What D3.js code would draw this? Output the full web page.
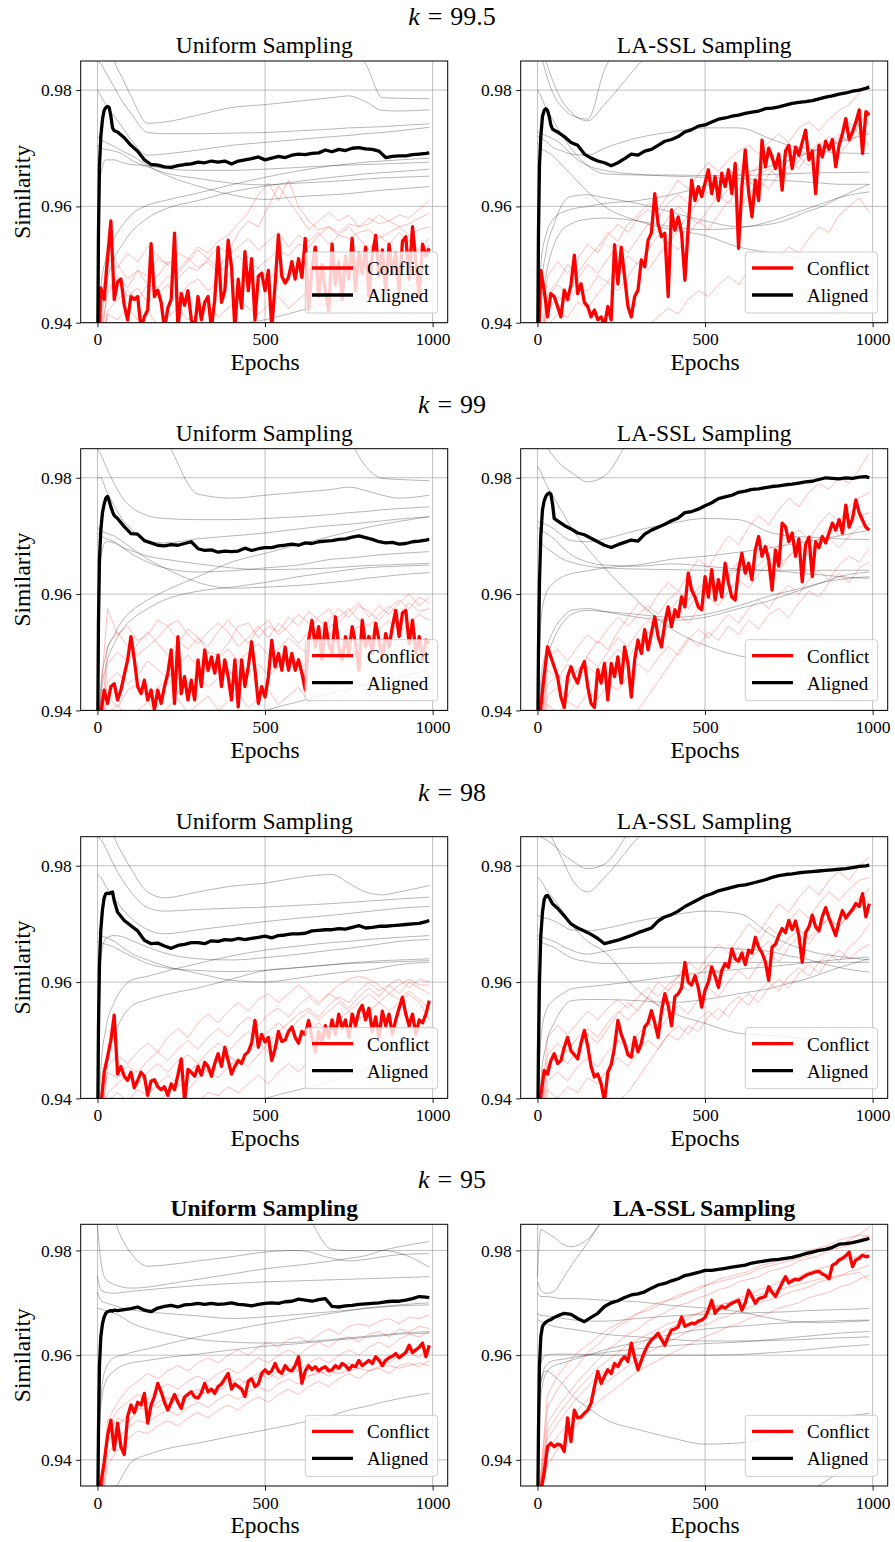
<!DOCTYPE html>
<html>
<head>
<meta charset="utf-8">
<script src="https://cdn.jsdelivr.net/npm/d3@7"></script>
<style>
  body { margin: 0; background: #fff; }
  svg text { font-family: "Liberation Serif", "Times New Roman", serif; fill: #000; }
</style>
</head>
<body>
<svg id="fig" width="895" height="1542"></svg>
<script>
// ---- sampling epochs of the logged series
const EPOCH_GRAY = [0,10,25,50,75,100,150,200,300,400,500,600,700,750,800,850,900,990];
const EPOCH_THIN = d3.range(0, 991, 30);
const EPOCH_RED = d3.range(0, 991, 10);
const EPOCH_BLACK = [0,3,6,10,15,20,25,30,35,40,45,50].concat(d3.range(60, 981, 20), [990]);

const rowLabels = ["99.5", "99", "98", "95"];
const colTitles = ["Uniform Sampling", "LA-SSL Sampling"];
const yDomains = [[0.94, 0.985], [0.94, 0.985], [0.94, 0.985], [0.935, 0.985]];
const xTicks = [0, 500, 1000];
const yTicks = [0.94, 0.96, 0.98];
const legendLabels = ["Conflict", "Aligned"];

// ================= k = 99.5 =================
const u995Black = [0.93,0.955,0.967,0.972,0.975,0.9765,0.977,0.9772,0.977,0.9755,0.9735,0.973,
  0.9728,0.9718,0.9705,0.9695,0.968,0.9672,0.9671,0.9668,
  0.9667,0.967,0.9672,0.9673,0.9676,0.9675,0.9678,0.9676,0.9678,0.9673,
  0.9678,0.968,0.9682,0.9685,0.968,0.9683,0.9686,0.9684,0.9688,0.969,
  0.9689,0.9691,0.9692,0.9697,0.9694,0.9698,0.9696,0.97,0.9701,0.9699,
  0.9698,0.9695,0.9684,0.9686,0.9687,0.9687,0.9689,0.969,0.9691, 0.9692];
const u995Red = [0.93,0.946,0.944,0.951,0.9575,0.944,0.947,0.9475,0.943,0.9405,
  0.9445,0.944,0.9445,0.939,0.941,0.9422,0.9536,0.9445,0.9456,0.9435,
  0.939,0.9425,0.944,0.9554,0.939,0.945,0.943,0.9455,0.9405,0.939,
  0.9445,0.9405,0.9435,0.9445,0.939,0.944,0.953,0.9435,0.9455,0.9542,
  0.9496,0.939,0.9475,0.9425,0.9522,0.9455,0.951,0.9405,0.948,0.9485,
  0.9455,0.949,0.939,0.9465,0.9551,0.948,0.9468,0.9478,0.9505,0.9475,
  0.951,0.9478,0.9545,0.9422,0.9495,0.953,0.9445,0.95,0.9455,0.942,
  0.9535,0.9465,0.9505,0.944,0.9515,0.9475,0.9545,0.9455,0.952,0.9485,
  0.953,0.9445,0.9515,0.955,0.948,0.9525,0.9455,0.9535,0.9485,0.952,
  0.9455,0.954,0.9548,0.9475,0.9565,0.9505,0.9445,0.9535,0.9515,0.9528];
const u995Thin = [
  [0.935,0.945,0.948,0.946,0.949,0.948,0.951,0.95,0.952,0.951,0.953,0.952,0.954,0.955,0.957,0.959,0.962,0.964,0.961,0.9645,0.96,0.9575,0.956,0.9565,0.9555,0.957,0.9565,0.958,0.957,0.9575,0.9585,0.958,0.9595,0.961],
  [0.93,0.942,0.944,0.9455,0.944,0.9465,0.946,0.948,0.9475,0.9495,0.949,0.951,0.953,0.952,0.9555,0.9575,0.9565,0.96,0.9635,0.961,0.9585,0.956,0.9575,0.959,0.9575,0.9585,0.9565,0.957,0.9585,0.9575,0.9565,0.957,0.958,0.9588],
  [0.935,0.9535,0.95,0.9475,0.949,0.9465,0.948,0.9505,0.949,0.951,0.9495,0.9505,0.9485,0.95,0.9515,0.95,0.9495,0.951,0.9525,0.9515,0.9535,0.953,0.955,0.9565,0.955,0.9545,0.9555,0.956,0.9545,0.9555,0.9565,0.955,0.956,0.9565],
  [0.93,0.946,0.9475,0.9445,0.946,0.9435,0.945,0.9465,0.944,0.9465,0.9475,0.9455,0.947,0.9485,0.9465,0.9475,0.9495,0.9475,0.949,0.948,0.9505,0.9485,0.9495,0.951,0.949,0.95,0.951,0.9495,0.9505,0.9525,0.951,0.9525,0.951,0.9535],
  [0.93,0.9415,0.9405,0.9425,0.9405,0.942,0.9395,0.941,0.9425,0.9405,0.9415,0.943,0.941,0.9425,0.944,0.9425,0.9415,0.943,0.9445,0.9425,0.944,0.9455,0.943,0.9445,0.942,0.944,0.9425,0.9455,0.944,0.9455,0.943,0.9445,0.946,0.9445],
  [0.93,0.951,0.9495,0.952,0.9505,0.953,0.9515,0.95,0.9485,0.9505,0.9525,0.951,0.9495,0.9515,0.953,0.9545,0.9525,0.954,0.9555,0.953,0.955,0.954,0.9555,0.9535,0.955,0.9565,0.9545,0.9525,0.955,0.9535,0.9555,0.954,0.9525,0.9545]
];
const u995Gray = [
  [0.999,0.999,0.998,0.997,0.996,0.995,0.994,0.993,0.992,0.991,0.99,0.989,0.988,0.987,0.9845,0.9787,0.9786,0.9785],
  [0.995,0.993,0.99,0.985,0.982,0.979,0.9743,0.9745,0.9757,0.977,0.9775,0.9781,0.9787,0.979,0.978,0.9765,0.9764,0.9766],
  [0.985,0.9845,0.983,0.9805,0.978,0.976,0.9727,0.9725,0.9725,0.9726,0.9727,0.973,0.9733,0.9735,0.9736,0.9737,0.9739,0.9742],
  [0.98,0.979,0.9775,0.9755,0.9735,0.9715,0.9688,0.969,0.9697,0.9705,0.971,0.9715,0.972,0.9722,0.9725,0.9727,0.973,0.9736],
  [0.972,0.9715,0.971,0.9703,0.9695,0.9688,0.967,0.9655,0.9635,0.962,0.9612,0.9617,0.962,0.9622,0.9625,0.9628,0.963,0.9634],
  [0.9705,0.97,0.9698,0.9695,0.969,0.968,0.9668,0.9658,0.9648,0.964,0.9637,0.964,0.9643,0.9645,0.9647,0.9649,0.965,0.9652],
  [0.94,0.9655,0.968,0.968,0.9675,0.9672,0.967,0.9665,0.9662,0.9662,0.9664,0.9667,0.967,0.9671,0.9672,0.9673,0.9674,0.9676],
  [0.935,0.946,0.951,0.9545,0.9568,0.9585,0.9602,0.961,0.9623,0.9637,0.965,0.9661,0.967,0.9673,0.9676,0.9678,0.968,0.9683],
  [0.93,0.94,0.946,0.951,0.9535,0.9555,0.958,0.9595,0.961,0.9625,0.9635,0.9643,0.965,0.9653,0.9656,0.9658,0.966,0.9664],
  [0.9,0.91,0.92,0.925,0.928,0.93,0.932,0.934,0.937,0.9395,0.9405,0.942,0.9435,0.944,0.9447,0.9455,0.946,0.9475]
];

const l995Black = [0.93,0.955,0.967,0.972,0.9755,0.9765,0.9768,0.9765,0.9755,0.974,0.9733,0.9731,
  0.9728,0.972,0.971,0.9705,0.969,0.9683,0.9678,0.9675,
  0.967,0.9675,0.9682,0.969,0.9688,0.9695,0.9698,0.9705,0.9712,0.9715,
  0.972,0.9728,0.9732,0.9738,0.974,0.9745,0.975,0.9752,0.9755,0.9757,
  0.976,0.9762,0.9764,0.9768,0.9769,0.9771,0.9774,0.9777,0.9779,0.978,
  0.9782,0.9785,0.9788,0.979,0.9793,0.9795,0.9798,0.98,0.9803, 0.9805];
const l995Red = [0.93,0.949,0.9456,0.941,0.945,0.9445,0.9428,0.941,0.9456,0.944,
  0.9465,0.9516,0.945,0.9467,0.9435,0.9428,0.941,0.9422,0.9405,0.941,
  0.9395,0.9428,0.9405,0.9534,0.9467,0.953,0.9479,0.9428,0.941,0.9445,
  0.9456,0.9508,0.9496,0.9542,0.9554,0.9622,0.957,0.9548,0.9554,0.9445,
  0.9594,0.9559,0.9582,0.9554,0.9473,0.9565,0.9645,0.961,0.9634,0.9617,
  0.964,0.9663,0.9622,0.9651,0.961,0.9657,0.9634,0.9663,0.9622,0.9674,
  0.9528,0.9634,0.9697,0.9625,0.9582,0.9645,0.961,0.9714,0.9668,0.97,
  0.9685,0.9665,0.969,0.9628,0.9695,0.9705,0.9665,0.9702,0.9688,0.971,
  0.9731,0.968,0.9695,0.9622,0.9705,0.9685,0.9712,0.9698,0.9715,0.9668,
  0.9705,0.9725,0.9751,0.9715,0.9728,0.9745,0.9766,0.9691,0.9763,0.9757];
const l995Thin = [
  [0.93,0.945,0.947,0.95,0.9485,0.951,0.953,0.9555,0.954,0.957,0.9585,0.9605,0.9595,0.962,0.9645,0.963,0.9655,0.9675,0.966,0.968,0.9695,0.9705,0.969,0.971,0.9725,0.971,0.9735,0.9745,0.973,0.975,0.9765,0.9775,0.9795,0.981],
  [0.93,0.942,0.9445,0.9435,0.946,0.9455,0.948,0.947,0.9495,0.9515,0.95,0.9525,0.955,0.9535,0.956,0.9585,0.957,0.9595,0.962,0.9605,0.963,0.9645,0.9625,0.9655,0.967,0.9655,0.968,0.97,0.9685,0.971,0.9725,0.971,0.974,0.9765],
  [0.93,0.9395,0.9415,0.941,0.9435,0.9425,0.945,0.947,0.9455,0.948,0.9505,0.949,0.9515,0.954,0.9525,0.955,0.9575,0.956,0.9585,0.961,0.9595,0.962,0.9645,0.963,0.9655,0.968,0.9665,0.969,0.971,0.9695,0.972,0.9745,0.9725,0.9745],
  [0.93,0.948,0.9505,0.9485,0.951,0.9535,0.952,0.955,0.957,0.9555,0.958,0.9595,0.958,0.9605,0.962,0.9605,0.963,0.9645,0.963,0.9655,0.9665,0.965,0.967,0.9685,0.967,0.969,0.97,0.9685,0.9705,0.972,0.9705,0.9725,0.974,0.9725],
  [0.92,0.925,0.928,0.93,0.932,0.933,0.934,0.935,0.9365,0.9375,0.9385,0.9395,0.941,0.9425,0.9415,0.944,0.9455,0.9445,0.9465,0.948,0.9465,0.949,0.9505,0.949,0.9515,0.953,0.952,0.9545,0.9565,0.9555,0.9585,0.96,0.9615,0.959],
  [0.93,0.9445,0.9465,0.945,0.9475,0.95,0.9485,0.951,0.9535,0.952,0.9545,0.957,0.9555,0.958,0.96,0.9585,0.961,0.9625,0.961,0.963,0.9645,0.9635,0.9655,0.9665,0.965,0.967,0.9685,0.967,0.969,0.9705,0.969,0.971,0.9725,0.9705]
];
const l995Gray = [
  [0.99,0.9865,0.983,0.979,0.977,0.9757,0.975,0.9835,0.99,0.993,0.995,0.996,0.997,0.997,0.997,0.997,0.997,0.997],
  [0.99,0.988,0.985,0.981,0.978,0.9762,0.9747,0.9775,0.9843,0.99,0.993,0.995,0.996,0.997,0.997,0.997,0.997,0.997],
  [0.98,0.979,0.977,0.9745,0.972,0.97,0.967,0.9656,0.9654,0.9654,0.9653,0.9653,0.9655,0.9656,0.9657,0.9658,0.9658,0.9659],
  [0.973,0.9725,0.9722,0.9715,0.9705,0.969,0.967,0.9662,0.9655,0.9652,0.965,0.9648,0.9645,0.9644,0.9642,0.964,0.9638,0.9638],
  [0.972,0.9718,0.9712,0.97,0.9695,0.969,0.9688,0.97,0.9718,0.9728,0.9735,0.9735,0.9715,0.9705,0.97,0.9695,0.9692,0.9691],
  [0.971,0.97,0.9695,0.9685,0.967,0.9655,0.9625,0.96,0.9575,0.956,0.955,0.953,0.952,0.9515,0.951,0.9505,0.95,0.9495],
  [0.93,0.945,0.952,0.957,0.9605,0.9617,0.962,0.9615,0.9605,0.959,0.9575,0.9565,0.957,0.9578,0.959,0.96,0.9615,0.9638],
  [0.93,0.942,0.948,0.9535,0.956,0.957,0.9578,0.958,0.9575,0.9565,0.956,0.9563,0.9575,0.9585,0.9595,0.9605,0.9615,0.9625],
  [0.93,0.95,0.955,0.958,0.959,0.9595,0.96,0.9605,0.961,0.962,0.9635,0.9655,0.967,0.968,0.969,0.97,0.971,0.9725]
];

// ================= k = 99 =================
const u99Black = [0.93,0.955,0.966,0.971,0.974,0.9755,0.9765,0.9768,0.976,0.975,0.9742,0.9735,
  0.973,0.9716,0.9704,0.9703,0.9692,0.9688,0.9684,0.9683,
  0.9685,0.9684,0.9687,0.969,0.9678,0.9675,0.9676,0.9672,0.9674,0.9673,
  0.9674,0.9679,0.9675,0.9678,0.968,0.968,0.9683,0.9684,0.9686,0.9684,
  0.9688,0.9687,0.969,0.9691,0.9692,0.9694,0.9695,0.9698,0.97,0.9697,
  0.9694,0.969,0.9688,0.9689,0.9686,0.9687,0.969,0.9691,0.9693, 0.9694];
const u99Red = [0.93,0.9395,0.9435,0.9412,0.9441,0.9446,0.9418,0.9435,0.9461,0.9487,
  0.9527,0.9487,0.9441,0.9429,0.9452,0.9418,0.9435,0.9401,0.9435,0.9412,
  0.9441,0.9464,0.9504,0.9412,0.9527,0.9429,0.9458,0.9418,0.9452,0.9418,
  0.9487,0.9441,0.9504,0.9469,0.9492,0.9464,0.9495,0.9441,0.9487,0.9458,
  0.9418,0.9487,0.9406,0.9487,0.9441,0.9475,0.9518,0.9469,0.9412,0.9441,
  0.9423,0.9458,0.9521,0.9475,0.9498,0.9469,0.9509,0.9469,0.9498,0.9469,
  0.9487,0.9464,0.9435,0.9521,0.9555,0.9509,0.9544,0.9487,0.955,0.9515,
  0.9498,0.9561,0.9509,0.9487,0.9527,0.9498,0.9544,0.9515,0.9469,0.9555,
  0.9509,0.9527,0.9498,0.955,0.9521,0.9487,0.9532,0.9509,0.9544,0.9572,
  0.9527,0.9567,0.9572,0.9515,0.9555,0.9498,0.9527,0.9487,0.9521,0.9515];
const u99Thin = [
  [0.935,0.9575,0.953,0.9545,0.952,0.953,0.9555,0.9545,0.952,0.9505,0.9525,0.951,0.9535,0.9555,0.9535,0.9515,0.954,0.9555,0.953,0.9545,0.9565,0.955,0.9535,0.9555,0.9575,0.956,0.958,0.957,0.9555,0.9575,0.959,0.9575,0.9595,0.9585],
  [0.93,0.948,0.95,0.9485,0.9515,0.9535,0.9515,0.9495,0.9515,0.954,0.9525,0.95,0.9495,0.9515,0.9545,0.955,0.9525,0.9545,0.9535,0.956,0.9545,0.957,0.9555,0.954,0.956,0.9575,0.9555,0.9545,0.9565,0.958,0.9565,0.9585,0.957,0.9575],
  [0.93,0.945,0.9465,0.9445,0.946,0.9485,0.947,0.9455,0.948,0.9495,0.9475,0.9465,0.949,0.9505,0.9485,0.95,0.9515,0.9495,0.9505,0.9525,0.951,0.9495,0.952,0.9535,0.9515,0.953,0.9545,0.9525,0.954,0.9555,0.9535,0.955,0.9565,0.9555],
  [0.93,0.9425,0.9405,0.9435,0.9445,0.942,0.944,0.9455,0.943,0.9445,0.946,0.944,0.9455,0.947,0.945,0.9465,0.948,0.946,0.9475,0.949,0.947,0.9485,0.95,0.948,0.9495,0.951,0.949,0.95,0.9515,0.9495,0.951,0.9525,0.9505,0.952],
  [0.93,0.9395,0.941,0.9385,0.94,0.9415,0.939,0.9405,0.942,0.9395,0.941,0.9425,0.94,0.9415,0.943,0.9405,0.942,0.9435,0.941,0.9425,0.944,0.9415,0.943,0.9445,0.942,0.9435,0.945,0.9425,0.944,0.9455,0.943,0.9445,0.946,0.9445],
  [0.93,0.951,0.9535,0.951,0.9495,0.951,0.9525,0.9545,0.9555,0.953,0.9515,0.9535,0.955,0.9535,0.951,0.9525,0.9545,0.9525,0.955,0.9535,0.9515,0.9535,0.956,0.9575,0.955,0.957,0.9585,0.956,0.958,0.9565,0.9585,0.96,0.958,0.9595]
];
const u99Gray = [
  [1.0,1.0,0.999,0.998,0.996,0.994,0.991,0.987,0.9772,0.9765,0.977,0.9775,0.978,0.9784,0.9778,0.977,0.9765,0.977],
  [0.999,0.999,0.999,0.998,0.997,0.996,0.995,0.994,0.993,0.992,0.991,0.99,0.989,0.9865,0.982,0.9799,0.9797,0.9795],
  [0.985,0.984,0.982,0.979,0.9765,0.975,0.9735,0.973,0.9728,0.9728,0.973,0.9733,0.9737,0.974,0.9742,0.9745,0.9747,0.975],
  [0.98,0.98,0.978,0.9752,0.9728,0.9712,0.969,0.9688,0.9695,0.97,0.9705,0.9712,0.9718,0.972,0.9723,0.9726,0.9729,0.9733],
  [0.9715,0.971,0.9705,0.97,0.969,0.968,0.966,0.9645,0.962,0.961,0.9612,0.9615,0.962,0.9623,0.9627,0.963,0.9633,0.9637],
  [0.9705,0.97,0.9695,0.969,0.968,0.967,0.9655,0.9645,0.9638,0.964,0.9645,0.965,0.966,0.9662,0.9665,0.9668,0.967,0.9673],
  [0.94,0.966,0.969,0.9688,0.968,0.9675,0.9665,0.966,0.9652,0.9645,0.9642,0.9643,0.9645,0.9647,0.9649,0.965,0.9651,0.9653],
  [0.93,0.944,0.9495,0.953,0.9555,0.957,0.959,0.9605,0.963,0.9655,0.967,0.9685,0.97,0.9707,0.9714,0.972,0.9725,0.9733],
  [0.93,0.942,0.9475,0.9515,0.954,0.9555,0.9575,0.959,0.9605,0.9612,0.962,0.963,0.9638,0.9642,0.9645,0.9647,0.9648,0.965],
  [0.9,0.905,0.91,0.915,0.92,0.925,0.928,0.93,0.935,0.938,0.94,0.9415,0.943,0.9437,0.9445,0.945,0.9457,0.947]
];

const l99Black = [0.93,0.95,0.962,0.97,0.9745,0.976,0.9768,0.9772,0.9774,0.9772,0.9755,0.973,
  0.9726,0.9718,0.9712,0.9705,0.9702,0.9696,0.969,0.9684,
  0.968,0.9685,0.9689,0.9693,0.9691,0.9703,0.971,0.9715,0.972,0.9726,
  0.9731,0.974,0.9742,0.9746,0.9752,0.9757,0.9764,0.9767,0.977,0.9775,
  0.9777,0.978,0.9781,0.9783,0.9785,0.9786,0.9788,0.9789,0.9791,0.9793,
  0.9794,0.9797,0.98,0.9799,0.9798,0.98,0.9799,0.9801,0.9802, 0.98];
const l99Red = [0.93,0.9405,0.946,0.9509,0.9492,0.9475,0.9458,0.9423,0.9405,0.9458,
  0.9475,0.9458,0.9447,0.947,0.9484,0.9441,0.9412,0.9405,0.947,0.9447,
  0.9481,0.9418,0.9481,0.9458,0.9492,0.9447,0.9509,0.9481,0.9423,0.9487,
  0.9521,0.9498,0.9539,0.9504,0.9533,0.9561,0.9527,0.9509,0.955,0.9578,
  0.9544,0.9573,0.9561,0.9595,0.9578,0.9636,0.9607,0.9595,0.9578,0.9573,
  0.963,0.9595,0.9642,0.959,0.9625,0.9595,0.9653,0.9619,0.9595,0.959,
  0.9642,0.967,0.9636,0.9653,0.9625,0.9676,0.9699,0.9665,0.9682,0.9659,
  0.9607,0.9676,0.9648,0.9722,0.9716,0.969,0.9705,0.9665,0.9695,0.9621,
  0.9685,0.9698,0.963,0.969,0.968,0.9699,0.9688,0.9705,0.9722,0.971,
  0.9728,0.9705,0.9753,0.9715,0.973,0.9762,0.974,0.9727,0.9715,0.971];
const l99Thin = [
  [0.93,0.947,0.9455,0.948,0.9465,0.9495,0.952,0.9505,0.9535,0.956,0.9585,0.957,0.96,0.962,0.9605,0.9635,0.966,0.9645,0.9675,0.97,0.9685,0.9715,0.9735,0.972,0.9745,0.9765,0.975,0.9775,0.979,0.978,0.98,0.979,0.9815,0.9842],
  [0.93,0.9445,0.946,0.9445,0.947,0.949,0.9475,0.95,0.9525,0.951,0.9535,0.9555,0.954,0.957,0.959,0.9575,0.96,0.962,0.9605,0.9635,0.9655,0.964,0.9665,0.9685,0.967,0.9695,0.971,0.9695,0.972,0.974,0.9725,0.975,0.9765,0.9775],
  [0.93,0.9425,0.944,0.9425,0.9455,0.9475,0.946,0.9485,0.9505,0.949,0.9515,0.9535,0.952,0.9545,0.9565,0.955,0.9575,0.9595,0.958,0.9605,0.9625,0.961,0.9635,0.9655,0.964,0.9665,0.9685,0.967,0.9695,0.9715,0.97,0.972,0.9735,0.974],
  [0.93,0.949,0.9505,0.9485,0.951,0.953,0.9515,0.954,0.956,0.9545,0.9565,0.958,0.9565,0.959,0.9605,0.959,0.961,0.9625,0.961,0.963,0.9645,0.963,0.965,0.9665,0.965,0.9665,0.968,0.9665,0.9685,0.9695,0.968,0.97,0.9715,0.972],
  [0.92,0.924,0.926,0.928,0.93,0.932,0.934,0.9355,0.937,0.9385,0.94,0.9425,0.945,0.9475,0.95,0.9525,0.951,0.9535,0.952,0.9545,0.953,0.9555,0.954,0.9565,0.9575,0.956,0.9585,0.9605,0.9595,0.962,0.9635,0.962,0.9645,0.9655],
  [0.93,0.941,0.9395,0.9415,0.9405,0.943,0.942,0.9445,0.9435,0.946,0.948,0.9465,0.949,0.951,0.9495,0.952,0.954,0.9525,0.9545,0.9565,0.955,0.9575,0.959,0.9575,0.96,0.9615,0.96,0.9625,0.964,0.9625,0.965,0.9665,0.9655,0.9678]
];
const l99Gray = [
  [0.987,0.9865,0.9855,0.9835,0.982,0.981,0.9793,0.9803,0.989,0.993,0.995,0.996,0.997,0.997,0.997,0.997,0.997,0.997],
  [0.982,0.981,0.979,0.9765,0.974,0.9715,0.9678,0.9645,0.9588,0.954,0.9512,0.9494,0.9488,0.9486,0.9485,0.9484,0.9483,0.948],
  [0.9725,0.9723,0.972,0.9712,0.97,0.9692,0.969,0.9695,0.971,0.9722,0.973,0.9728,0.9705,0.97,0.9698,0.9697,0.9695,0.9694],
  [0.9715,0.971,0.9705,0.9695,0.968,0.9668,0.9655,0.965,0.9648,0.9652,0.9648,0.9643,0.964,0.9638,0.9635,0.9633,0.963,0.9627],
  [0.969,0.9688,0.968,0.967,0.966,0.9655,0.9648,0.9645,0.9643,0.9642,0.9641,0.9641,0.9641,0.9641,0.9641,0.9641,0.9641,0.9641],
  [0.935,0.945,0.95,0.954,0.956,0.9572,0.9575,0.957,0.956,0.9555,0.956,0.9575,0.959,0.96,0.961,0.962,0.963,0.9638],
  [0.93,0.943,0.948,0.9525,0.955,0.9565,0.9572,0.957,0.9565,0.956,0.9565,0.958,0.9598,0.9605,0.9612,0.962,0.9625,0.963],
  [0.93,0.955,0.96,0.962,0.963,0.9635,0.964,0.9645,0.965,0.966,0.9665,0.9672,0.968,0.9685,0.969,0.9695,0.97,0.971]
];

// ================= k = 98 =================
const u98Black = [0.93,0.952,0.963,0.969,0.9725,0.9745,0.9752,0.9753,0.9752,0.9754,0.9755,0.974,
  0.972,0.9706,0.9697,0.9688,0.9672,0.9666,0.9667,0.9662,
  0.9658,0.9663,0.9665,0.9668,0.9668,0.9666,0.9671,0.967,0.9673,0.9672,
  0.9675,0.9673,0.9675,0.9677,0.9679,0.9676,0.968,0.9681,0.9683,0.9683,
  0.9684,0.9688,0.9689,0.969,0.969,0.9692,0.9691,0.9694,0.9697,0.9693,
  0.9694,0.9696,0.9696,0.9697,0.9698,0.9699,0.97,0.9701,0.9704, 0.9706];
const u98Red = [0.93,0.9385,0.9445,0.9471,0.95,0.9543,0.9442,0.9455,0.9438,0.9431,
  0.9445,0.9418,0.9431,0.9445,0.9438,0.9405,0.943,0.9432,0.942,0.9415,
  0.942,0.9405,0.9425,0.9415,0.944,0.9468,0.9395,0.945,0.9445,0.9438,
  0.9455,0.944,0.9462,0.9455,0.9438,0.946,0.9477,0.9455,0.9488,0.9465,
  0.9442,0.9455,0.9465,0.946,0.9475,0.948,0.9495,0.9534,0.9488,0.951,
  0.9497,0.9505,0.9465,0.9485,0.9515,0.9498,0.95,0.9515,0.9523,0.9505,
  0.9495,0.9515,0.951,0.9534,0.9505,0.948,0.9515,0.9495,0.9525,0.9505,
  0.9535,0.951,0.9545,0.952,0.9535,0.9505,0.9545,0.9525,0.955,0.956,
  0.9535,0.9555,0.9515,0.954,0.9505,0.955,0.9525,0.9545,0.951,0.9535,
  0.9555,0.9574,0.9545,0.9525,0.9545,0.951,0.9535,0.953,0.9545,0.9568];
const u98Thin = [
  [0.93,0.9455,0.9475,0.946,0.948,0.9495,0.948,0.9505,0.952,0.9505,0.953,0.9545,0.953,0.955,0.9565,0.955,0.957,0.958,0.9565,0.958,0.9595,0.958,0.9565,0.958,0.9595,0.9605,0.961,0.9605,0.9595,0.958,0.9595,0.9605,0.9595,0.9595],
  [0.93,0.9445,0.9435,0.9455,0.9445,0.9465,0.948,0.9465,0.9485,0.95,0.9485,0.9505,0.952,0.9505,0.9525,0.954,0.9525,0.9545,0.9555,0.954,0.956,0.9575,0.956,0.958,0.957,0.9555,0.9575,0.959,0.9575,0.9595,0.958,0.96,0.959,0.958],
  [0.93,0.941,0.9425,0.944,0.9425,0.9445,0.946,0.9445,0.9465,0.9475,0.946,0.948,0.9495,0.948,0.95,0.9515,0.95,0.9515,0.953,0.9515,0.9535,0.955,0.9535,0.955,0.9565,0.955,0.9565,0.958,0.9565,0.958,0.957,0.9585,0.957,0.9555],
  [0.93,0.9395,0.941,0.9395,0.9415,0.9405,0.9425,0.944,0.9425,0.9445,0.946,0.9445,0.9465,0.9475,0.946,0.948,0.9495,0.948,0.95,0.9515,0.95,0.9515,0.953,0.9515,0.9535,0.955,0.9535,0.955,0.9565,0.955,0.9565,0.958,0.9565,0.9535],
  [0.92,0.93,0.933,0.935,0.9365,0.9375,0.9385,0.9395,0.9385,0.94,0.9395,0.941,0.9405,0.942,0.941,0.9425,0.944,0.9425,0.9445,0.946,0.9445,0.9465,0.9455,0.9475,0.9465,0.9485,0.95,0.9485,0.9505,0.9495,0.9515,0.9525,0.951,0.9525],
  [0.92,0.932,0.935,0.9365,0.9375,0.9385,0.9395,0.941,0.9425,0.9415,0.9435,0.945,0.9435,0.9455,0.947,0.9455,0.9475,0.9495,0.9515,0.953,0.9545,0.9555,0.954,0.956,0.9575,0.9565,0.9585,0.96,0.9585,0.9595,0.9605,0.959,0.9605,0.96]
];
const u98Gray = [
  [0.995,0.993,0.99,0.985,0.982,0.9795,0.9755,0.9745,0.9755,0.9765,0.977,0.978,0.9785,0.977,0.9755,0.975,0.9755,0.9766],
  [0.985,0.9845,0.983,0.98,0.9775,0.9755,0.9728,0.9722,0.9725,0.9727,0.9729,0.9732,0.9735,0.9737,0.9739,0.9741,0.9743,0.9746],
  [0.9785,0.978,0.9765,0.9745,0.9725,0.971,0.969,0.9683,0.969,0.9697,0.9704,0.971,0.9715,0.9718,0.9721,0.9724,0.9727,0.973],
  [0.9685,0.968,0.9677,0.967,0.966,0.965,0.9638,0.9628,0.9615,0.9603,0.96,0.9607,0.9615,0.9618,0.962,0.9625,0.963,0.9634],
  [0.967,0.9668,0.9665,0.966,0.9652,0.9645,0.9632,0.9625,0.962,0.9618,0.962,0.9625,0.963,0.9633,0.9635,0.9637,0.9638,0.964],
  [0.94,0.964,0.9675,0.968,0.9678,0.9672,0.966,0.965,0.964,0.9638,0.9642,0.9648,0.9655,0.9658,0.9662,0.9666,0.967,0.9673],
  [0.93,0.945,0.952,0.9565,0.959,0.9603,0.961,0.9618,0.9632,0.9645,0.9655,0.9662,0.9668,0.967,0.9673,0.9675,0.9677,0.968],
  [0.93,0.94,0.946,0.951,0.954,0.9558,0.957,0.9578,0.959,0.9605,0.962,0.9625,0.963,0.9632,0.9633,0.9634,0.9635,0.9637],
  [0.9,0.905,0.91,0.915,0.92,0.924,0.928,0.931,0.935,0.938,0.94,0.9415,0.943,0.944,0.945,0.946,0.947,0.9488]
];

const l98Black = [0.93,0.948,0.96,0.968,0.972,0.9742,0.9748,0.9749,0.9745,0.974,0.9735,0.9732,
  0.9727,0.9714,0.97,0.9693,0.9688,0.9682,0.9675,0.9666,
  0.9669,0.9672,0.9676,0.968,0.9685,0.9689,0.9693,0.9705,0.9712,0.9716,
  0.9722,0.973,0.9736,0.9742,0.9748,0.9752,0.9757,0.976,0.9763,0.9766,
  0.9767,0.977,0.9773,0.9776,0.978,0.9783,0.9785,0.9786,0.9788,0.9789,
  0.979,0.9791,0.9792,0.9793,0.9794,0.9795,0.9797,0.9799,0.98, 0.9801];
const l98Red = [0.93,0.9405,0.9448,0.9442,0.9465,0.9477,0.946,0.9465,0.9488,0.9505,
  0.9482,0.9475,0.9468,0.9495,0.9517,0.949,0.9455,0.9437,0.9442,0.9425,
  0.9395,0.9445,0.9458,0.9488,0.9534,0.951,0.9495,0.9475,0.9471,0.9505,
  0.948,0.9495,0.9523,0.953,0.9551,0.953,0.9505,0.955,0.958,0.956,
  0.9525,0.9575,0.958,0.959,0.9634,0.96,0.9595,0.9611,0.959,0.9557,
  0.9586,0.96,0.9626,0.961,0.9591,0.962,0.9632,0.9625,0.9657,0.964,
  0.9636,0.965,0.963,0.9655,0.965,0.9677,0.966,0.965,0.9635,0.9603,
  0.966,0.9665,0.968,0.9692,0.9685,0.9706,0.969,0.9705,0.968,0.9634,
  0.9685,0.9695,0.9715,0.9695,0.9688,0.9713,0.9728,0.971,0.9695,0.968,
  0.9705,0.9723,0.971,0.9718,0.9725,0.9735,0.973,0.9752,0.9712,0.9735];
const l98Thin = [
  [0.93,0.9455,0.9475,0.946,0.9485,0.951,0.9495,0.952,0.9545,0.9565,0.955,0.9575,0.96,0.9585,0.961,0.9635,0.962,0.9645,0.9665,0.965,0.9675,0.97,0.9685,0.971,0.9735,0.972,0.9745,0.9765,0.975,0.9775,0.979,0.9775,0.98,0.9815],
  [0.93,0.9475,0.9495,0.948,0.9505,0.952,0.9505,0.953,0.955,0.9535,0.9555,0.9575,0.956,0.9585,0.96,0.9585,0.961,0.963,0.9615,0.964,0.966,0.9645,0.967,0.9695,0.968,0.9705,0.9725,0.971,0.9735,0.9755,0.974,0.976,0.9775,0.978],
  [0.93,0.943,0.9445,0.943,0.9455,0.947,0.9455,0.948,0.95,0.9485,0.951,0.953,0.9515,0.954,0.956,0.9545,0.957,0.959,0.9575,0.96,0.962,0.9605,0.963,0.965,0.9635,0.966,0.968,0.9665,0.969,0.971,0.9695,0.972,0.9745,0.976],
  [0.93,0.9505,0.9525,0.951,0.953,0.955,0.9535,0.9555,0.957,0.9555,0.9575,0.959,0.9575,0.9595,0.961,0.9595,0.9615,0.963,0.9615,0.9635,0.965,0.9635,0.9655,0.967,0.9655,0.9675,0.969,0.9675,0.9695,0.971,0.9695,0.9715,0.973,0.974],
  [0.92,0.926,0.929,0.931,0.933,0.935,0.9365,0.938,0.9395,0.941,0.9435,0.946,0.9485,0.951,0.95,0.9525,0.9515,0.954,0.9555,0.954,0.9565,0.958,0.9565,0.959,0.9605,0.959,0.9615,0.963,0.9615,0.964,0.9655,0.964,0.9655,0.9665],
  [0.93,0.9415,0.94,0.942,0.941,0.9435,0.9425,0.945,0.947,0.9455,0.948,0.95,0.9485,0.951,0.9525,0.951,0.9535,0.955,0.9535,0.956,0.9575,0.956,0.9585,0.96,0.9585,0.961,0.9625,0.961,0.9635,0.965,0.9635,0.966,0.9675,0.97]
];
const l98Gray = [
  [0.99,0.989,0.987,0.984,0.981,0.978,0.9755,0.978,0.9848,0.99,0.992,0.993,0.994,0.994,0.994,0.994,0.994,0.994],
  [0.9855,0.985,0.9845,0.9835,0.982,0.981,0.9795,0.9803,0.988,0.992,0.994,0.995,0.996,0.996,0.996,0.996,0.996,0.996],
  [0.978,0.9775,0.976,0.9742,0.9722,0.97,0.967,0.9652,0.9585,0.9548,0.9529,0.9512,0.9508,0.9505,0.9502,0.95,0.9498,0.9495],
  [0.9715,0.9712,0.971,0.9705,0.9697,0.969,0.9688,0.9692,0.9705,0.9715,0.9722,0.9718,0.968,0.9665,0.9655,0.9648,0.9644,0.9638],
  [0.968,0.9678,0.9675,0.967,0.9662,0.9655,0.9648,0.9653,0.966,0.966,0.966,0.9657,0.9652,0.9645,0.964,0.9632,0.9625,0.9617],
  [0.9675,0.967,0.9665,0.966,0.965,0.9642,0.9635,0.9632,0.9632,0.9633,0.9633,0.9634,0.9634,0.9634,0.9634,0.9634,0.9634,0.9634],
  [0.935,0.95,0.955,0.957,0.958,0.9588,0.9592,0.9595,0.9602,0.961,0.9617,0.9622,0.9627,0.963,0.9633,0.9636,0.9639,0.9643],
  [0.93,0.943,0.949,0.953,0.9555,0.9568,0.957,0.957,0.9568,0.9565,0.957,0.958,0.959,0.9598,0.9605,0.9615,0.9625,0.964]
];

// ================= k = 95 =================
const u95Black = [0.925,0.945,0.958,0.9635,0.966,0.9673,0.968,0.9683,0.9684,0.9685,0.9684,0.9686,
  0.9685,0.9687,0.9689,0.9692,0.9686,0.9683,0.969,0.9693,
  0.9695,0.9692,0.9696,0.9697,0.9699,0.9697,0.9699,0.9697,0.9698,0.97,
  0.9697,0.9696,0.9694,0.9697,0.9699,0.97,0.9699,0.9702,0.9703,0.9707,
  0.9705,0.9703,0.9706,0.9708,0.9693,0.9692,0.9694,0.9695,0.9697,0.9698,
  0.9699,0.97,0.9702,0.9703,0.9703,0.9705,0.9708,0.9712,0.9711, 0.971];
const u95Red = [0.92,0.9356,0.9395,0.9445,0.9476,0.9419,0.947,0.9425,0.941,0.9483,
  0.9505,0.949,0.951,0.9505,0.9527,0.947,0.9505,0.9521,0.9546,0.953,
  0.951,0.9495,0.951,0.9525,0.951,0.9498,0.952,0.9525,0.953,0.952,
  0.9518,0.9528,0.9546,0.953,0.9535,0.9527,0.954,0.9545,0.9555,0.9565,
  0.9535,0.9545,0.954,0.9535,0.9521,0.955,0.9555,0.954,0.9545,0.9565,
  0.9572,0.9565,0.957,0.9584,0.957,0.9565,0.958,0.9572,0.957,0.958,
  0.9597,0.9546,0.957,0.958,0.9572,0.9578,0.957,0.9575,0.9578,0.957,
  0.9572,0.958,0.9575,0.9584,0.958,0.9572,0.958,0.9578,0.959,0.958,
  0.9585,0.959,0.9584,0.9597,0.959,0.958,0.959,0.9595,0.9598,0.9603,
  0.9595,0.96,0.9605,0.9619,0.9605,0.961,0.9615,0.9623,0.9597,0.9619];
const u95Thin = [
  [0.925,0.9475,0.951,0.9535,0.955,0.9565,0.9555,0.957,0.958,0.957,0.9585,0.9595,0.9585,0.96,0.961,0.96,0.9615,0.9625,0.9615,0.963,0.9635,0.9625,0.964,0.965,0.964,0.9655,0.966,0.9655,0.9665,0.967,0.966,0.9672,0.967,0.9677],
  [0.925,0.946,0.9495,0.951,0.9525,0.9515,0.9535,0.9545,0.9535,0.955,0.956,0.955,0.9565,0.9575,0.9565,0.958,0.9595,0.9585,0.96,0.961,0.96,0.9615,0.9625,0.9615,0.963,0.9635,0.9625,0.964,0.9645,0.9635,0.965,0.9645,0.9655,0.9651],
  [0.925,0.9435,0.9465,0.9485,0.95,0.9495,0.951,0.952,0.951,0.9525,0.9535,0.9525,0.954,0.955,0.954,0.9555,0.9565,0.9555,0.957,0.958,0.957,0.9585,0.9595,0.9585,0.96,0.961,0.96,0.9615,0.9625,0.9615,0.963,0.964,0.9635,0.9645],
  [0.925,0.941,0.944,0.946,0.9475,0.947,0.9485,0.9495,0.9485,0.95,0.951,0.95,0.9515,0.9525,0.9515,0.953,0.954,0.953,0.9545,0.9555,0.9545,0.956,0.957,0.956,0.9575,0.9585,0.9575,0.959,0.9595,0.9585,0.96,0.9605,0.9595,0.9616],
  [0.925,0.939,0.942,0.944,0.9455,0.945,0.9465,0.9475,0.9465,0.948,0.949,0.948,0.9495,0.9505,0.9495,0.951,0.952,0.951,0.9525,0.9535,0.9525,0.954,0.955,0.954,0.9555,0.9565,0.9555,0.957,0.9575,0.9565,0.958,0.9585,0.9578,0.959],
  [0.925,0.945,0.948,0.947,0.9495,0.951,0.95,0.9515,0.9525,0.9515,0.953,0.954,0.953,0.9545,0.9555,0.9545,0.956,0.9565,0.9555,0.9565,0.957,0.956,0.9565,0.957,0.9565,0.957,0.9575,0.957,0.9578,0.958,0.9575,0.958,0.9585,0.958]
];
const u95Gray = [
  [0.999,0.996,0.992,0.986,0.982,0.9795,0.977,0.9772,0.978,0.9788,0.9797,0.98,0.9785,0.978,0.9783,0.9788,0.9792,0.9794],
  [0.999,0.999,0.999,0.998,0.997,0.996,0.995,0.994,0.993,0.992,0.991,0.989,0.9802,0.98,0.98,0.98,0.9795,0.9768],
  [0.985,0.978,0.9745,0.9735,0.973,0.9728,0.973,0.9735,0.9745,0.9755,0.9765,0.9772,0.978,0.9785,0.979,0.98,0.9807,0.9817],
  [0.975,0.9725,0.972,0.9718,0.972,0.9722,0.9725,0.9728,0.9733,0.9737,0.974,0.9742,0.9744,0.9745,0.9746,0.9747,0.9748,0.975],
  [0.972,0.9705,0.97,0.9695,0.969,0.9687,0.9682,0.968,0.9675,0.967,0.9673,0.9678,0.9683,0.9686,0.9689,0.9692,0.9694,0.9696],
  [0.969,0.9688,0.9685,0.968,0.9672,0.9662,0.965,0.9642,0.963,0.9625,0.9623,0.9625,0.963,0.9633,0.9636,0.9639,0.9642,0.9645],
  [0.935,0.952,0.9575,0.9595,0.96,0.9605,0.9612,0.962,0.9635,0.9648,0.966,0.967,0.968,0.9685,0.969,0.9693,0.9696,0.97],
  [0.935,0.95,0.955,0.957,0.958,0.9585,0.959,0.9595,0.9602,0.961,0.9617,0.9622,0.9628,0.9631,0.9634,0.9637,0.964,0.9642],
  [0.925,0.928,0.931,0.934,0.937,0.9395,0.941,0.942,0.9432,0.9445,0.9457,0.947,0.9485,0.9495,0.9502,0.951,0.9517,0.9527]
];

const l95Black = [0.925,0.945,0.958,0.9635,0.9655,0.966,0.9663,0.9665,0.9667,0.9668,0.967,0.9672,
  0.9675,0.968,0.9678,0.967,0.9664,0.9672,0.968,0.9693,
  0.97,0.9704,0.971,0.9715,0.9717,0.9721,0.9728,0.9734,0.9737,0.9742,
  0.9746,0.9752,0.9755,0.9758,0.9762,0.9762,0.9764,0.9766,0.9768,0.977,
  0.9772,0.9776,0.9778,0.978,0.9782,0.9783,0.9785,0.9787,0.979,0.9794,
  0.9797,0.98,0.9802,0.9806,0.9812,0.9813,0.9815,0.9818,0.9821, 0.9823];
const l95Red = [0.92,0.934,0.9375,0.9425,0.9432,0.9425,0.943,0.9428,0.9416,0.948,
  0.9435,0.9495,0.948,0.9482,0.9489,0.9495,0.9508,0.954,0.9569,0.9546,
  0.956,0.9572,0.9565,0.9584,0.9578,0.959,0.9597,0.9588,0.9623,0.9595,
  0.9572,0.959,0.9607,0.962,0.9629,0.9635,0.9642,0.963,0.9619,0.9635,
  0.9648,0.965,0.9654,0.9673,0.9655,0.9658,0.9661,0.966,0.9665,0.9667,
  0.9672,0.9686,0.9705,0.968,0.9688,0.9693,0.969,0.9695,0.9699,0.9702,
  0.9705,0.9686,0.97,0.9724,0.9712,0.9699,0.9708,0.971,0.9712,0.9731,
  0.972,0.9712,0.9725,0.9738,0.975,0.9738,0.9742,0.9745,0.9744,0.9748,
  0.9752,0.9755,0.9757,0.9759,0.976,0.9755,0.9752,0.9746,0.9772,0.9775,
  0.9782,0.9785,0.979,0.9797,0.9769,0.9782,0.9785,0.9791,0.9788,0.9789];
const l95Thin = [
  [0.93,0.95,0.9535,0.956,0.958,0.9605,0.962,0.964,0.9655,0.9665,0.968,0.9685,0.9695,0.9705,0.971,0.972,0.9725,0.9735,0.974,0.9745,0.975,0.9755,0.9765,0.977,0.9775,0.978,0.9785,0.979,0.98,0.9805,0.981,0.982,0.983,0.9845],
  [0.93,0.947,0.95,0.9525,0.955,0.957,0.959,0.961,0.9625,0.964,0.965,0.9665,0.9675,0.9685,0.9695,0.97,0.971,0.9715,0.9725,0.973,0.974,0.9745,0.975,0.976,0.9765,0.977,0.978,0.9785,0.979,0.98,0.9805,0.981,0.982,0.983],
  [0.93,0.944,0.947,0.9495,0.952,0.954,0.956,0.9575,0.959,0.9605,0.962,0.963,0.964,0.965,0.966,0.967,0.968,0.9685,0.9695,0.97,0.971,0.9715,0.9725,0.973,0.974,0.9745,0.975,0.976,0.9765,0.977,0.978,0.9785,0.979,0.98],
  [0.93,0.9415,0.9445,0.947,0.9495,0.9515,0.9535,0.955,0.9565,0.958,0.9595,0.9605,0.9615,0.9625,0.9635,0.9645,0.9655,0.966,0.967,0.9675,0.9685,0.969,0.97,0.9705,0.971,0.972,0.9725,0.973,0.974,0.9745,0.975,0.976,0.9765,0.9772],
  [0.93,0.939,0.942,0.9445,0.947,0.949,0.951,0.9525,0.954,0.9555,0.957,0.958,0.959,0.96,0.961,0.962,0.963,0.9638,0.9645,0.9655,0.966,0.967,0.9675,0.968,0.969,0.9695,0.97,0.971,0.9715,0.972,0.973,0.9735,0.9745,0.9753],
  [0.93,0.9525,0.956,0.9585,0.9605,0.962,0.9635,0.965,0.966,0.967,0.968,0.969,0.97,0.9705,0.9715,0.972,0.973,0.9735,0.9745,0.975,0.9755,0.976,0.977,0.9775,0.978,0.9785,0.979,0.98,0.9805,0.981,0.982,0.9825,0.983,0.9826],
  [0.93,0.9455,0.9485,0.951,0.9535,0.9555,0.9575,0.959,0.9605,0.962,0.963,0.964,0.965,0.966,0.9665,0.9675,0.968,0.969,0.9695,0.97,0.9705,0.971,0.9715,0.972,0.9725,0.973,0.9735,0.974,0.9745,0.975,0.9752,0.9755,0.9758,0.9743]
];
const l95Gray = [
  [0.975,0.984,0.9835,0.9825,0.9812,0.9807,0.9822,0.986,0.992,0.995,0.995,0.995,0.995,0.995,0.995,0.995,0.995,0.995],
  [0.974,0.9725,0.9718,0.9722,0.9745,0.977,0.9815,0.9865,0.992,0.995,0.995,0.995,0.995,0.995,0.995,0.995,0.995,0.995],
  [0.972,0.9712,0.9712,0.971,0.9708,0.9708,0.9707,0.9705,0.9702,0.9695,0.969,0.9683,0.967,0.9665,0.9663,0.9662,0.9663,0.9666],
  [0.968,0.9676,0.9675,0.9673,0.967,0.9668,0.9665,0.9665,0.967,0.9675,0.9678,0.968,0.9682,0.9683,0.9685,0.9686,0.9687,0.9689],
  [0.9668,0.9665,0.966,0.9655,0.9652,0.965,0.9645,0.964,0.9635,0.963,0.9627,0.9627,0.9628,0.9629,0.963,0.9632,0.9633,0.9635],
  [0.945,0.9585,0.96,0.9602,0.9602,0.9602,0.9601,0.96,0.96,0.96,0.96,0.9601,0.9605,0.9607,0.961,0.9613,0.9616,0.962],
  [0.94,0.952,0.9565,0.958,0.9585,0.959,0.96,0.961,0.9625,0.964,0.965,0.9655,0.966,0.9662,0.9664,0.9665,0.9666,0.9667],
  [0.94,0.955,0.957,0.956,0.9545,0.9525,0.95,0.9478,0.9458,0.9442,0.943,0.9432,0.9445,0.9455,0.9465,0.9472,0.948,0.9489],
  [0.9,0.902,0.905,0.908,0.91,0.912,0.915,0.918,0.922,0.925,0.927,0.929,0.931,0.932,0.9335,0.9355,0.9375,0.9405],
  [0.94,0.9545,0.958,0.959,0.9592,0.9595,0.96,0.9605,0.9612,0.9618,0.9622,0.9625,0.963,0.9633,0.9636,0.9639,0.9642,0.9645]
];

const panels = [
  {row: 0, col: 0, gray: u995Gray, thin: u995Thin, red: u995Red, black: u995Black},
  {row: 0, col: 1, gray: l995Gray, thin: l995Thin, red: l995Red, black: l995Black},
  {row: 1, col: 0, gray: u99Gray, thin: u99Thin, red: u99Red, black: u99Black},
  {row: 1, col: 1, gray: l99Gray, thin: l99Thin, red: l99Red, black: l99Black},
  {row: 2, col: 0, gray: u98Gray, thin: u98Thin, red: u98Red, black: u98Black},
  {row: 2, col: 1, gray: l98Gray, thin: l98Thin, red: l98Red, black: l98Black},
  {row: 3, col: 0, gray: u95Gray, thin: u95Thin, red: u95Red, black: u95Black},
  {row: 3, col: 1, gray: l95Gray, thin: l95Thin, red: l95Red, black: l95Black}
];

// ---- layout
const FONT = '"Liberation Serif", "Times New Roman", serif';
const svg = d3.select("#fig");
const colX = [80.7, 520.7];
const rowY = [61, 448.7, 836.7, 1224.3];
const axW = 367, axH = 261.7;

const x = d3.scaleLinear().domain([-50, 1045]).range([0, axW]);

function pairs(epochs, vals) {
  const n = Math.min(epochs.length, vals.length);
  return d3.range(n).map(i => [epochs[i], vals[i]]);
}

// row titles  (k = ...)
rowLabels.forEach((lab, r) => {
  const t = svg.append("text")
    .attr("x", 452).attr("y", rowY[r] - 36)
    .attr("text-anchor", "middle")
    .attr("font-family", FONT)
    .style("font-size", "26px");
  t.append("tspan").style("font-style", "italic").text("k");
  t.append("tspan").attr("dx", 8).text("=");
  t.append("tspan").attr("dx", 8).text(lab);
});

panels.forEach((p, idx) => {
  const g = svg.append("g").attr("transform", `translate(${colX[p.col]},${rowY[p.row]})`);
  const y = d3.scaleLinear().domain(yDomains[p.row]).range([axH, 0]);
  const clipId = "clip" + idx;
  g.append("clipPath").attr("id", clipId)
    .append("rect").attr("width", axW).attr("height", axH);

  // grid
  g.selectAll(".gx").data(xTicks).join("line")
    .attr("x1", d => x(d)).attr("x2", d => x(d))
    .attr("y1", 0).attr("y2", axH)
    .attr("stroke", "#b0b0b0").attr("stroke-width", 0.8);
  g.selectAll(".gy").data(yTicks).join("line")
    .attr("y1", d => y(d)).attr("y2", d => y(d))
    .attr("x1", 0).attr("x2", axW)
    .attr("stroke", "#b0b0b0").attr("stroke-width", 0.8);

  const plot = g.append("g").attr("clip-path", `url(#${clipId})`);
  const smooth = d3.line().x(d => x(d[0])).y(d => y(d[1])).curve(d3.curveMonotoneX);
  const line = d3.line().x(d => x(d[0])).y(d => y(d[1]));

  p.gray.forEach(s => {
    plot.append("path").attr("d", smooth(pairs(EPOCH_GRAY, s)))
      .attr("fill", "none").attr("stroke", "#000").attr("stroke-opacity", 0.32)
      .attr("stroke-width", 0.9);
  });
  p.thin.forEach(s => {
    plot.append("path").attr("d", line(pairs(EPOCH_THIN, s)))
      .attr("fill", "none").attr("stroke", "#ff0000").attr("stroke-opacity", 0.3)
      .attr("stroke-width", 0.9);
  });
  plot.append("path").attr("d", line(pairs(EPOCH_RED, p.red)))
    .attr("fill", "none").attr("stroke", "#ff0000").attr("stroke-width", 3.3)
    .attr("stroke-linejoin", "round");
  plot.append("path").attr("d", line(pairs(EPOCH_BLACK, p.black)))
    .attr("fill", "none").attr("stroke", "#000").attr("stroke-width", 3.3)
    .attr("stroke-linejoin", "round");

  // axes
  const ax = g.append("g").attr("transform", `translate(0,${axH})`)
    .call(d3.axisBottom(x).tickValues(xTicks).tickFormat(d3.format("d")).tickSize(4.5).tickPadding(5.6));
  const ay = g.append("g")
    .call(d3.axisLeft(y).tickValues(yTicks).tickFormat(d3.format(".2f")).tickSize(4.5).tickPadding(4.5));
  [ax, ay].forEach(a => {
    a.attr("font-family", FONT).attr("font-size", 17.5);
    a.select(".domain").remove();
    a.selectAll("line").attr("stroke", "#000").attr("stroke-width", 0.9);
    a.selectAll("text").attr("fill", "#000");
  });

  g.append("rect").attr("width", axW).attr("height", axH)
    .attr("fill", "none").attr("stroke", "#000").attr("stroke-width", 1);

  // subplot title
  g.append("text").attr("x", axW / 2).attr("y", -8)
    .attr("text-anchor", "middle")
    .style("font-size", "23.5px")
    .style("font-weight", p.row === 3 ? "bold" : "normal")
    .text(colTitles[p.col]);

  g.append("text").attr("x", x(500)).attr("y", axH + 47.5)
    .attr("text-anchor", "middle").style("font-size", "23.5px").text("Epochs");
  if (p.col === 0) {
    g.append("text")
      .attr("transform", `translate(${30 - colX[0]},${axH / 2}) rotate(-90)`)
      .attr("text-anchor", "middle").style("font-size", "23.5px").text("Similarity");
  }

  // legend
  const lw = 132.4, lh = 61;
  const lg = g.append("g").attr("transform", `translate(${axW - 10 - lw},${axH - 9.7 - lh})`);
  lg.append("rect").attr("width", lw).attr("height", lh).attr("rx", 3)
    .attr("fill", "#fff").attr("fill-opacity", 0.8)
    .attr("stroke", "#ccc").attr("stroke-width", 1);
  legendLabels.forEach((lab, i) => {
    const yy = 16 + i * 27;
    lg.append("line").attr("x1", 6.7).attr("x2", 47.7).attr("y1", yy).attr("y2", yy)
      .attr("stroke", i === 0 ? "#ff0000" : "#000").attr("stroke-width", 3.3);
    lg.append("text").attr("x", 61.7).attr("y", yy + 7)
      .style("font-size", "19px").text(lab);
  });
});
</script>
</body>
</html>
